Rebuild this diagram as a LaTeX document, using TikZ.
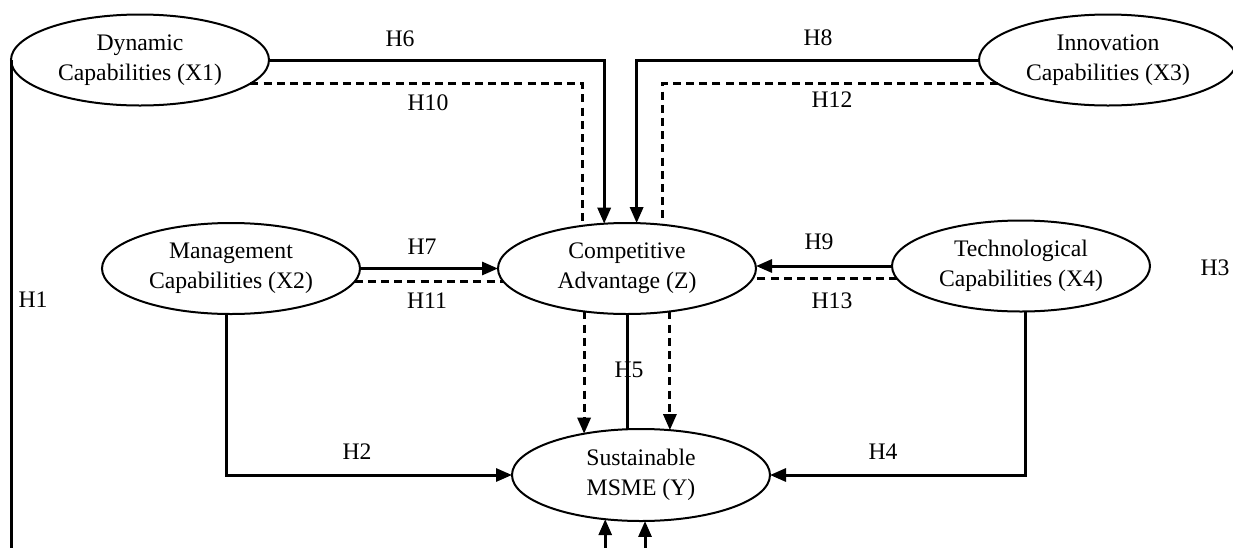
\documentclass[tikz,border=0pt]{standalone}
\usepackage{fontspec}
\setmainfont{Liberation Serif}
\usetikzlibrary{arrows.meta,shapes.geometric}

\begin{document}
\begin{tikzpicture}[x=0.5pt,y=-0.5pt,
  construct/.style={ellipse,draw,line width=1pt,minimum width=129pt,minimum height=45.5pt,
    inner sep=0pt,outer sep=0pt,align=center,font=\fontsize{11.85}{15}\selectfont},
  hyp/.style={font=\fontsize{11.85}{15}\selectfont,inner sep=0pt},
  link/.style={line width=1.5pt},
  dlink/.style={line width=1.5pt,dash pattern=on 4pt off 2.6pt},
  tip/.style={-{Triangle[length=8pt,width=6.5pt]}}
]
\useasboundingbox (0,0) rectangle (1233,547);

% constructs
\node[construct] (X1) at (140,60)    {Dynamic\\Capabilities (X1)};
\node[construct] (X3) at (1108,60)   {Innovation\\Capabilities (X3)};
\node[construct] (X2) at (231,268.5) {Management\\Capabilities (X2)};
\node[construct] (Z)  at (627,268.5) {Competitive\\Advantage (Z)};
\node[construct] (X4) at (1021,266)  {Technological\\Capabilities (X4)};
\node[construct,minimum height=46pt] (Y) at (641,475) {Sustainable\\MSME (Y)};

\coordinate (bot) at (0,552);

% direct paths into competitive advantage
\draw[link,tip] (X1.east) -| (Z.117.2);
\draw[dlink] (X1.-12.4) -| (Z.136.6);
\draw[link,tip] (X3.west) -| (Z.78.8);
\draw[dlink] (X3.192.4) -| (Z.51.4);
\draw[link,tip] (X2.east) -- (Z.west);
\draw[dlink] (X2.-6.25) -- (X2.-6.25 -| Z.186.25);
\draw[link,tip] (X4.west) -- (X4.west -| Z.east);
\draw[dlink] (X4.186) -- (X4.186 -| Z.-4.8);

% paths into sustainable MSME
\draw[link] (Z.south) -- (Z.south |- Y.107);
\draw[dlink,tip] (Z.-135.1) -- (Z.-135.1 |- Y.144.1);
\draw[dlink,tip] (Z.-45.7) -- (Z.-45.7 |- Y.58.05);
\draw[link,tip] (X2.-96) |- (Y.west);
\draw[link,tip] (X4.-84) |- (Y.east);
\draw[link] (X1.west) -- (X1.west |- bot);
\draw[link,tip] (Y.-129.2 |- bot) -- (Y.-129.2);
\draw[link,tip] (Y.-85 |- bot) -- (Y.-85);

% hypothesis labels
\node[hyp] (h1)  at (33,300)   {H1};
\node[hyp] (h2)  at (357,452)  {H2};
\node[hyp] (h3)  at (1215,268) {H3};
\node[hyp] (h4)  at (883,452)  {H4};
\node[hyp] (h5)  at (629,370)  {H5};
\node[hyp] (h6)  at (400,39)   {H6};
\node[hyp] (h7)  at (422,247)  {H7};
\node[hyp] (h8)  at (818,38)   {H8};
\node[hyp] (h9)  at (819,242)  {H9};
\node[hyp] (h10) at (428,103)  {H10};
\node[hyp] (h11) at (427,301)  {H11};
\node[hyp] (h12) at (832,100)  {H12};
\node[hyp] (h13) at (832,301)  {H13};
\end{tikzpicture}
\end{document}
